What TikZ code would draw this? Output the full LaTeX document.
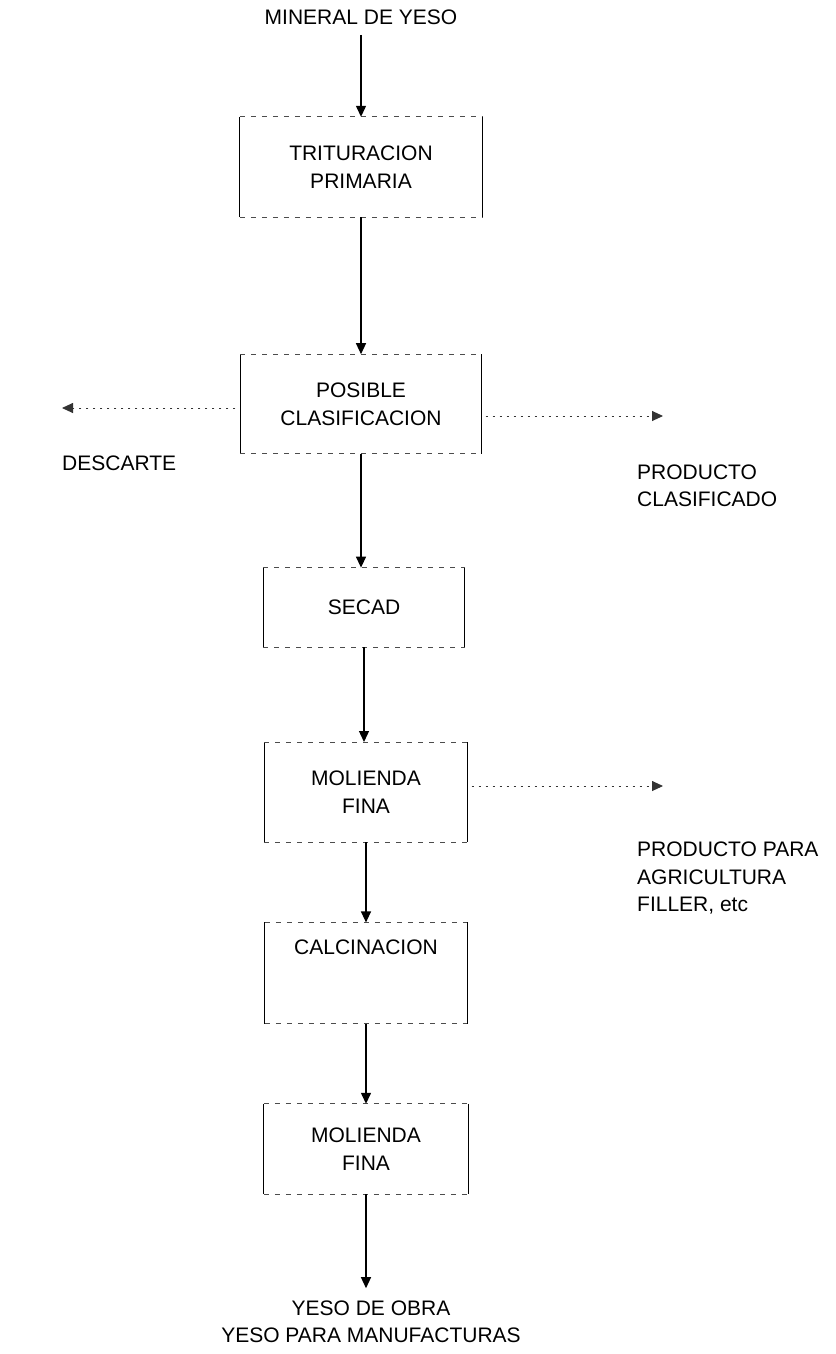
\documentclass[tikz,border=0pt]{standalone}
\usepackage{fontspec}
\setmainfont{Liberation Sans}
\usetikzlibrary{arrows.meta,positioning}
\tikzset{
  flowarrow/.style={-{Triangle[length=11pt,width=10pt]}, line width=1.3pt,
    draw=black},
  sidearrow/.style={flowarrow, line width=0.9pt, draw=black!80,
    dash pattern=on 2pt off 5pt},
  procbox/.style={align=center, inner sep=0pt,
    font=\fontsize{21}{28}\selectfont},
  boxside/.style={line width=1.3pt, draw=black},
  boxedge/.style={line width=0.9pt, draw=black!70,
    dash pattern=on 5pt off 6pt},
  plainlabel/.style={align=center, inner sep=0pt,
    font=\fontsize{21}{27.5}\selectfont}
}
\begin{document}
\begin{tikzpicture}[x=1pt, y=-1pt]
  \useasboundingbox (0,0) rectangle (835,1354);

  \node[procbox, minimum width=242pt, minimum height=100pt] (trit)
    at (361,167) {TRITURACION\\PRIMARIA};
  \node[plainlabel, above=92pt of trit] (mineral) {MINERAL DE YESO};
  \node[procbox, minimum width=241pt, minimum height=99pt,
    below=137pt of trit] (clas) {POSIBLE\\CLASIFICACION};
  \node[procbox, minimum width=201pt, minimum height=79pt,
    below=114pt of clas, xshift=3pt] (secad) {SECAD};
  \node[procbox, minimum width=203pt, minimum height=100pt,
    below=95pt of secad, xshift=2pt] (molf) {MOLIENDA\\FINA};
  \node[procbox, minimum width=202pt, minimum height=101pt,
    below=80pt of molf] (calc) {CALCINACION\\[16pt]\strut};
  \node[procbox, minimum width=204pt, minimum height=90pt,
    below=80pt of calc] (molb) {MOLIENDA\\FINA};
  \node[plainlabel, below=106pt of molb, xshift=5pt] (yeso)
    {YESO DE OBRA\\YESO PARA MANUFACTURAS};

  % box outlines: solid sides, broken top and bottom
  \foreach \b in {trit,clas,secad,molf,calc,molb} {
    \draw[boxside] (\b.north west) -- (\b.south west)
      (\b.north east) -- (\b.south east);
    \draw[boxedge] (\b.north west) -- (\b.north east)
      (\b.south west) -- (\b.south east);
  }

  \coordinate (descend) at (62,408);
  \coordinate (clasend) at (663,416);
  \coordinate (agrend) at (663,786);

  \node[plainlabel, anchor=west] (descarte) at (62,463) {DESCARTE};
  \node[plainlabel, anchor=west, align=left] (clasprod) at (637,486)
    {PRODUCTO\\CLASIFICADO};
  \node[plainlabel, anchor=west, align=left] (agrprod) at (637,878)
    {PRODUCTO PARA\\AGRICULTURA\\FILLER, etc};

  \draw[flowarrow, shorten <=10pt] (mineral) -- (trit);
  \draw[flowarrow] (trit) -- (clas);
  \draw[flowarrow] (clas.south) -- (clas.south |- secad.north);
  \draw[flowarrow] (secad.south) -- (secad.south |- molf.north);
  \draw[flowarrow] (molf) -- (calc);
  \draw[flowarrow] (calc) -- (molb);
  \draw[flowarrow, shorten >=12pt] (molb.south) -- (molb.south |- yeso.north);

  \draw[sidearrow, shorten <=5pt] (clas.west |- descend) -- (descend);
  \draw[sidearrow, shorten <=4pt] (clas.east |- clasend) -- (clasend);
  \draw[sidearrow, shorten <=4pt] (molf.east |- agrend) -- (agrend);
\end{tikzpicture}
\end{document}
